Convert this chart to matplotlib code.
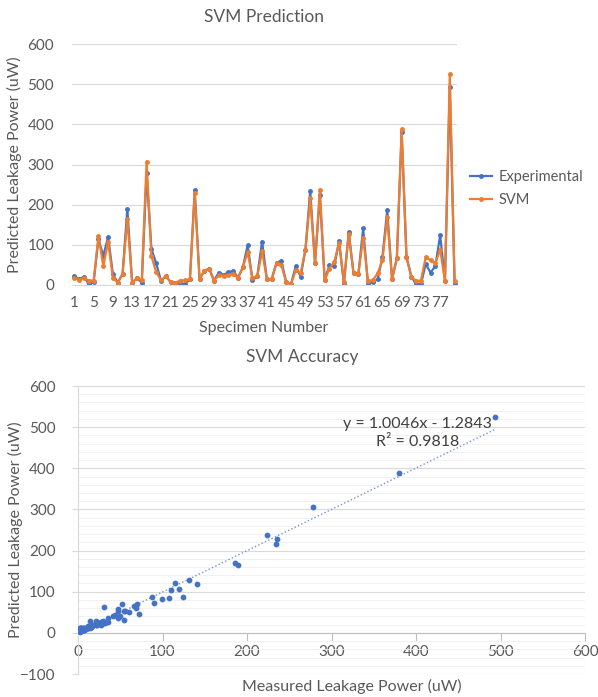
import numpy as np
import matplotlib
matplotlib.use("Agg")
import matplotlib.pyplot as plt
from matplotlib.ticker import MultipleLocator

plt.rcParams['font.family'] = ['Lato', 'DejaVu Sans']

# measured and SVM-predicted leakage power per specimen (uW)
specimens = list(range(1, 81))
experimental = [22, 14, 21, 2, 7, 115, 72, 120, 27, 6,
                27, 189, 6, 17, 6, 278, 90, 54, 10, 22,
                7, 6, 4, 3, 14, 236, 15, 35, 41, 11,
                31, 25, 32, 35, 18, 44, 99, 12, 22, 108,
                14, 15, 56, 60, 7, 2, 47, 21, 87, 234,
                54, 224, 12, 50, 47, 110, 2, 131, 29, 27,
                141, 2, 7, 14, 69, 186, 15, 66, 380, 70,
                21, 2, 2, 52, 31, 47, 124, 10, 494, 2]
svm = [18, 12, 18, 11, 11, 122, 47, 107, 18, 6,
       27, 164, 6, 17, 12, 307, 72, 32, 12, 22,
       7, 6, 11, 12, 14, 228, 15, 35, 41, 11,
       24, 23, 25, 27, 18, 44, 82, 17, 22, 84,
       14, 15, 54, 50, 7, 2, 37, 29, 87, 216,
       54, 237, 12, 41, 58, 104, 8, 128, 29, 27,
       118, 10, 12, 29, 61, 170, 15, 66, 388, 70,
       21, 10, 11, 69, 62, 54, 88, 10, 525, 10]

# trendline reported for SVM vs measured
slope, intercept, r2 = 1.0046, -1.2843, 0.9818

blue = '#4472C4'
orange = '#ED7D31'
grid = '#D9D9D9'
txt = '#595959'

fig = plt.figure(figsize=(5.98, 6.97), dpi=100)
W, H = 598, 697

def px(x, y):
    return x / W, 1 - y / H

# ---- SVM Prediction (line chart)
ax1 = fig.add_axes([72 / W, 1 - 285 / H, 385 / W, 241 / H])
ax1.plot(specimens, experimental, color=blue, lw=1.6, marker='o', ms=2.5, label='Experimental')
ax1.plot(specimens, svm, color=orange, lw=1.6, marker='o', ms=2.5, label='SVM')
ax1.set_xlim(0.5, 80.5)
ax1.set_ylim(0, 600)
ax1.set_yticks(range(0, 601, 100))
ax1.set_xticks(specimens[::4])
ax1.set_xticklabels([str(s) for s in specimens[::4]])
ax1.grid(axis='y', color=grid, lw=0.8)
ax1.set_axisbelow(True)
for s in ['top', 'right', 'left']:
    ax1.spines[s].set_visible(False)
ax1.spines['bottom'].set_color(grid)
ax1.tick_params(axis='both', length=0, labelsize=11, colors=txt)
ax1.tick_params(axis='y', pad=13)
ax1.tick_params(axis='x', pad=8)
leg = ax1.legend(loc='center left', bbox_to_anchor=(1.035, 0.40), frameon=False,
                 fontsize=10.5, handlelength=1.5, handletextpad=0.4,
                 borderaxespad=0, borderpad=0, labelspacing=0.6)
for t in leg.get_texts():
    t.set_color(txt)

fig.text(*px(264, 17), 'SVM Prediction', ha='center', va='center', fontsize=12.5, color=txt)
fig.text(*px(264, 328), 'Specimen Number', ha='center', va='center', fontsize=11.5, color=txt)
fig.text(*px(14, 165), 'Predicted Leakage Power (uW)', ha='center', va='center',
         rotation=90, fontsize=11.5, color=txt)

# ---- SVM Accuracy (scatter with trendline)
ax2 = fig.add_axes([78 / W, 1 - 674 / H, 507 / W, 288 / H])
ax2.scatter(experimental, svm, s=10, color=blue, zorder=3)
xs = np.array([min(experimental), max(experimental)])
ax2.plot(xs, slope * xs + intercept, color='#6F94D6', lw=1.0, ls=':', zorder=2)
ax2.set_xlim(0, 600)
ax2.set_ylim(-100, 600)
ax2.xaxis.set_major_locator(MultipleLocator(100))
ax2.yaxis.set_major_locator(MultipleLocator(100))
ax2.yaxis.set_minor_locator(MultipleLocator(20))
ax2.grid(axis='y', which='major', color=grid, lw=0.8)
ax2.grid(axis='y', which='minor', color='#EFEFEF', lw=0.6)
ax2.set_axisbelow(True)
for s in ['top', 'right']:
    ax2.spines[s].set_visible(False)
ax2.spines['bottom'].set_position(('data', 0))
ax2.spines['bottom'].set_color('#BFBFBF')
ax2.spines['left'].set_color(grid)
ax2.tick_params(axis='x', length=6, color='#BFBFBF', labelsize=11, labelcolor=txt, pad=3)
ax2.tick_params(axis='y', which='major', length=4, color=grid, labelsize=11, labelcolor=txt, pad=12)
ax2.tick_params(axis='y', which='minor', length=0)
ax2.text(402, 485, f'y = {slope}x - {abs(intercept)}\nR² = {r2}', ha='center', va='center',
         fontsize=11.5, color='#404040', linespacing=1.35)

fig.text(*px(302, 357), 'SVM Accuracy', ha='center', va='center', fontsize=12.5, color=txt)
fig.text(*px(352, 686), 'Measured Leakage Power (uW)', ha='center', va='center', fontsize=11.5, color=txt)
fig.text(*px(15, 530), 'Predicted Leakage Power (uW)', ha='center', va='center',
         rotation=90, fontsize=11.5, color=txt)

fig.savefig('out.png', dpi=100)
